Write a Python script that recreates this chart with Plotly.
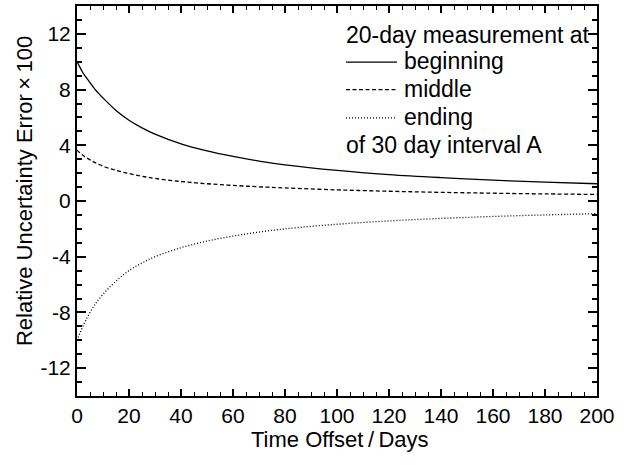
import plotly.graph_objects as go

# ---- data ----
days = [0, 1, 2, 3, 5, 7, 10, 15, 20, 25, 30, 40, 50, 60, 70, 80, 100, 120, 140, 160, 180, 200]
beginning = [10.0, 9.65, 9.3, 9.0, 8.5, 8.0, 7.4, 6.5, 5.8, 5.25, 4.8, 4.1, 3.6, 3.2, 2.87, 2.6, 2.2, 1.9, 1.68, 1.5, 1.36, 1.24]
middle = [3.65, 3.48, 3.32, 3.18, 2.95, 2.75, 2.5, 2.2, 1.97, 1.78, 1.62, 1.4, 1.24, 1.12, 1.02, 0.94, 0.8, 0.7, 0.62, 0.56, 0.51, 0.47]
ending = [-10.0, -9.55, -9.1, -8.7, -8.0, -7.4, -6.7, -5.75, -5.0, -4.45, -4.0, -3.35, -2.88, -2.52, -2.23, -2.0, -1.67, -1.43, -1.25, -1.11, -1.0, -0.91]

y_tickvals = [-12, -8, -4, 0, 4, 8, 12]
y_ticktext = ["-12", "-8", "-4", "0", "4", "8", "12"]
x_tickvals = [0, 20, 40, 60, 80, 100, 120, 140, 160, 180, 200]

series_names = ["beginning", "middle", "ending"]
series_dash = ["solid", "4px,2.5px", "1px,2px"]
series_vals = [beginning, middle, ending]

FONT = "Liberation Sans, Arial, Helvetica, sans-serif"
FS = 22
FS_LEG = 23

fig = go.Figure()
for name, vals, dash in zip(series_names, series_vals, series_dash):
    fig.add_trace(go.Scatter(x=days, y=vals, mode="lines", name=name,
                             line=dict(color="black", width=1.3, dash=dash, shape="spline"),
                             showlegend=False))

axis_common = dict(showline=True, linecolor="black", linewidth=2, mirror="allticks",
                   ticks="inside", tickcolor="black", showgrid=False, zeroline=False,
                   tickfont=dict(family=FONT, size=21, color="black"))

fig.update_xaxes(range=[0, 200], tickvals=x_tickvals, ticklen=7, tickwidth=1.5,
                 minor=dict(dtick=5, ticks="inside", ticklen=4, tickwidth=1.2, tickcolor="black", showgrid=False),
                 **axis_common)
fig.update_yaxes(range=[-14, 14], tickvals=y_tickvals, ticktext=y_ticktext, ticklen=9, tickwidth=1.8,
                 minor=dict(dtick=1, tick0=0, ticks="inside", ticklen=5, tickwidth=1.5, tickcolor="black", showgrid=False),
                 **axis_common)

# plot area pixel geometry: x 77..597, y 4..396
W, H = 637, 465
L, R, T, B = 77, 597, 4, 396
def px(x):
    return (x - L) / (R - L)
def py(y):
    return (B - y) / (B - T)

annotations = [
    dict(text="Time Offset\u2009/\u2009Days", x=px(340), y=py(440), xref="paper", yref="paper",
         showarrow=False, xanchor="center", yanchor="middle", font=dict(family=FONT, size=FS, color="black")),
    dict(text="Relative Uncertainty Error\u2009×\u2009100", x=px(24), y=py(190), xref="paper", yref="paper",
         showarrow=False, xanchor="center", yanchor="middle", textangle=-90,
         font=dict(family=FONT, size=FS, color="black")),
    dict(text="20-day measurement at", x=px(344), y=py(33), xref="paper", yref="paper",
         showarrow=False, xanchor="left", yanchor="middle", font=dict(family=FONT, size=FS_LEG, color="black")),
    dict(text="of 30 day interval A", x=px(344), y=py(144), xref="paper", yref="paper",
         showarrow=False, xanchor="left", yanchor="middle", font=dict(family=FONT, size=FS_LEG, color="black")),
]
shapes = []
leg_y = [60.5, 88, 116.5]
for name, dash, ly in zip(series_names, series_dash, leg_y):
    annotations.append(dict(text=name, x=px(402), y=py(ly - 1), xref="paper", yref="paper",
                            showarrow=False, xanchor="left", yanchor="middle",
                            font=dict(family=FONT, size=FS_LEG, color="black")))
    shapes.append(dict(type="line", xref="paper", yref="paper", x0=px(346), x1=px(397),
                       y0=py(ly), y1=py(ly), line=dict(color="black", width=1.3, dash=dash)))

fig.update_layout(width=W, height=H, margin=dict(l=L, r=W - R, t=T, b=H - B),
                  paper_bgcolor="white", plot_bgcolor="white",
                  annotations=annotations, shapes=shapes,
                  font=dict(family=FONT, color="black"))

fig.write_html("out.html")
